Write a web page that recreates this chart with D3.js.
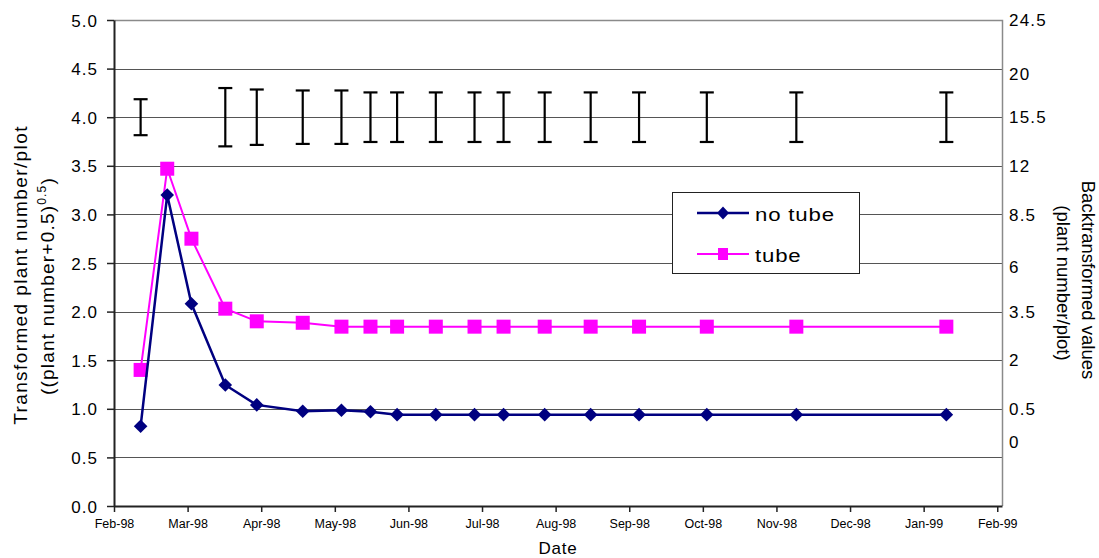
<!DOCTYPE html>
<html>
<head>
<meta charset="utf-8">
<title></title>
<style>
  body { margin: 0; background: #fff; }
  text { font-family: "Liberation Sans", Arial, sans-serif; fill: #000; }
</style>
</head>
<body>
<script src="https://d3js.org/d3.v7.min.js"></script>
<script>

// sampling dates
var dates = ["1998-02-12", "1998-02-23", "1998-03-05", "1998-03-19", "1998-04-01",
             "1998-04-20", "1998-05-06", "1998-05-18", "1998-05-29", "1998-06-14",
             "1998-06-30", "1998-07-12", "1998-07-29", "1998-08-17", "1998-09-06",
             "1998-10-04", "1998-11-10", "1999-01-11"];

// transformed values, (n+0.5)^0.5
var noTube = [0.82, 3.20, 2.08, 1.245, 1.04, 0.975, 0.985, 0.97, 0.94, 0.94,
              0.94, 0.94, 0.94, 0.94, 0.94, 0.94, 0.94, 0.94];
var tube   = [1.40, 3.47, 2.75, 2.03, 1.90, 1.885, 1.845, 1.845, 1.845, 1.845,
              1.845, 1.845, 1.845, 1.845, 1.845, 1.845, 1.845, 1.845];

// LSD bars drawn round 4.0 (half lengths, null = no bar)
var lsdCentre = 4.0;
var lsdHalf = [0.185, null, null, 0.30, 0.285, 0.275, 0.275, 0.255, 0.255, 0.255,
               0.255, 0.255, 0.255, 0.255, 0.255, 0.255, 0.255, 0.255];

var seriesNames = ["no tube", "tube"];
var yTicks = [0, 0.5, 1.0, 1.5, 2.0, 2.5, 3.0, 3.5, 4.0, 4.5, 5.0];
var rightLabels = ["24.5", "20", "15.5", "12", "8.5", "6", "3.5", "2", "0.5", "0"];
var rightLabelAt = [5.0, 4.45, 4.0, 3.5, 3.0, 2.46, 2.0, 1.5, 1.0, 0.66];

var parse = d3.utcParse("%Y-%m-%d");
var when = dates.map(parse);

var W = 1099, H = 558;
var plotLeft = 114, plotRight = 1002, plotTop = 20, plotBottom = 506;

var svg = d3.select("body").append("svg")
    .attr("width", W)
    .attr("height", H);

var x = d3.scaleUtc()
    .domain([Date.UTC(1998, 1, 1), Date.UTC(1999, 1, 3)])
    .range([plotLeft, plotRight]);
var y = d3.scaleLinear().domain([0, 5]).range([plotBottom, plotTop]);

// excel style: major unit of about a month counted from the minimum
var xTicks = d3.range(13).map(function(k) {
    return new Date(Date.UTC(1998, 1, 1) + k * 30.42 * 864e5);
});

function crisp(v) { return Math.round(v) + 0.5; }

// gridlines
svg.append("g").selectAll("line")
    .data(yTicks.filter(function(d) { return d > 0 && d < 5; }))
    .enter().append("line")
    .attr("x1", plotLeft).attr("x2", plotRight)
    .attr("y1", function(d) { return crisp(y(d)); })
    .attr("y2", function(d) { return crisp(y(d)); })
    .attr("stroke", "#555")
    .attr("stroke-width", 1);

// top and right border
svg.append("path")
    .attr("d", "M" + plotLeft + "," + (plotTop + 0.5) + "H" + (plotRight + 0.5) + "V" + plotBottom)
    .attr("fill", "none")
    .attr("stroke", "#8a8a8a")
    .attr("stroke-width", 1.5);

// left axis
var gY = svg.append("g")
    .attr("transform", "translate(" + plotLeft + ",0)")
    .call(d3.axisLeft(y).tickValues(yTicks).tickSize(7).tickSizeOuter(0)
        .tickFormat(d3.format(".1f")));
gY.select(".domain").attr("stroke", "#222").attr("stroke-width", 2);
gY.selectAll(".tick line").attr("stroke", "#222").attr("stroke-width", 1.5);
gY.selectAll(".tick text")
    .attr("x", -16)
    .style("font-size", "17px")
    .style("letter-spacing", "1px")
    .attr("dy", "0.36em");

// bottom axis
var gX = svg.append("g")
    .attr("transform", "translate(0," + plotBottom + ")")
    .call(d3.axisBottom(x).tickValues(xTicks).tickSize(6).tickSizeOuter(0)
        .tickFormat(d3.utcFormat("%b-%y")));
gX.select(".domain").attr("stroke", "#222").attr("stroke-width", 2);
gX.selectAll(".tick line").attr("stroke", "#222").attr("stroke-width", 1.5);
gX.selectAll(".tick text")
    .attr("y", 22)
    .attr("dy", 0)
    .style("font-size", "12.5px");

// right hand labels (backtransformed)
svg.append("g").selectAll("text")
    .data(rightLabels)
    .enter().append("text")
    .attr("x", 1009)
    .attr("y", function(d, i) { return y(rightLabelAt[i]); })
    .attr("dy", "0.36em")
    .style("font-size", "17px")
    .style("letter-spacing", "1.2px")
    .text(function(d) { return d; });

// axis titles
svg.append("text")
    .attr("x", (plotLeft + plotRight) / 2)
    .attr("y", 554)
    .attr("text-anchor", "middle")
    .style("font-size", "17px")
    .style("letter-spacing", "0.8px")
    .text("Date");

svg.append("text")
    .attr("transform", "translate(27,275) rotate(-90)")
    .attr("text-anchor", "middle")
    .style("font-size", "19px")
    .style("letter-spacing", "1.4px")
    .text("Transformed plant number/plot");

var t2 = svg.append("text")
    .attr("transform", "translate(54,286) rotate(-90)")
    .attr("text-anchor", "middle")
    .style("font-size", "19px")
    .style("letter-spacing", "1.2px");
t2.append("tspan").text("((plant number+0.5)");
t2.append("tspan").attr("dy", -8).style("font-size", "12px").text("0.5");
t2.append("tspan").attr("dy", 8).text(")");

svg.append("text")
    .attr("transform", "translate(1082,280) rotate(90)")
    .attr("text-anchor", "middle")
    .style("font-size", "18.5px")
    .text("Backtransformed values");

svg.append("text")
    .attr("transform", "translate(1057,283) rotate(90)")
    .attr("text-anchor", "middle")
    .style("font-size", "18.5px")
    .text("(plant number/plot)");

// LSD bars
var bars = svg.append("g").selectAll("g")
    .data(lsdHalf.map(function(h, i) { return { t: when[i], h: h }; })
        .filter(function(d) { return d.h != null; }))
    .enter().append("g")
    .attr("stroke", "#000")
    .attr("stroke-width", 2.2);
bars.append("line")
    .attr("x1", function(d) { return x(d.t); })
    .attr("x2", function(d) { return x(d.t); })
    .attr("y1", function(d) { return y(lsdCentre + d.h); })
    .attr("y2", function(d) { return y(lsdCentre - d.h); });
bars.append("line")
    .attr("x1", function(d) { return x(d.t) - 7; })
    .attr("x2", function(d) { return x(d.t) + 7; })
    .attr("y1", function(d) { return y(lsdCentre + d.h); })
    .attr("y2", function(d) { return y(lsdCentre + d.h); });
bars.append("line")
    .attr("x1", function(d) { return x(d.t) - 7; })
    .attr("x2", function(d) { return x(d.t) + 7; })
    .attr("y1", function(d) { return y(lsdCentre - d.h); })
    .attr("y2", function(d) { return y(lsdCentre - d.h); });

// series
var series = [
    { name: seriesNames[0], values: noTube, color: "#000080", shape: "diamond", width: 2.5 },
    { name: seriesNames[1], values: tube, color: "#ff00ff", shape: "square", width: 2 }
];

var line = d3.line()
    .x(function(d, i) { return x(when[i]); })
    .y(function(d) { return y(d); });

function marker(sel, s) {
    if (s.shape == "diamond") {
        sel.append("path")
            .attr("d", "M0,-6.8L6.8,0L0,6.8L-6.8,0Z")
            .attr("fill", s.color);
    } else {
        sel.append("rect")
            .attr("x", -7).attr("y", -7)
            .attr("width", 14).attr("height", 14)
            .attr("fill", s.color);
    }
}

// tube drawn first, no tube on top
series.slice().reverse().forEach(function(s) {
    svg.append("path")
        .datum(s.values)
        .attr("d", line)
        .attr("fill", "none")
        .attr("stroke", s.color)
        .attr("stroke-width", s.width);
    svg.append("g").selectAll("g")
        .data(s.values)
        .enter().append("g")
        .attr("transform", function(d, i) { return "translate(" + x(when[i]) + "," + y(d) + ")"; })
        .each(function() { marker(d3.select(this), s); });
});

// legend
var lg = svg.append("g");
lg.append("rect")
    .attr("x", 672.5).attr("y", 192.5)
    .attr("width", 187).attr("height", 81)
    .attr("fill", "#fff")
    .attr("stroke", "#222")
    .attr("stroke-width", 1);

var legendY = [213, 254];
series.forEach(function(s, i) {
    var row = lg.append("g").attr("transform", "translate(0," + legendY[i] + ")");
    row.append("line")
        .attr("x1", 697).attr("x2", 749)
        .attr("stroke", s.color)
        .attr("stroke-width", s.width);
    var m = row.append("g").attr("transform", "translate(723,0)");
    if (s.shape == "diamond") {
        m.append("path").attr("d", "M0,-6.5L6,0L0,6.5L-6,0Z").attr("fill", s.color);
    } else {
        m.append("rect").attr("x", -5).attr("y", -6).attr("width", 10).attr("height", 12).attr("fill", s.color);
    }
    row.append("text")
        .attr("transform", "translate(755,8) scale(1.2,1)")
        .style("font-size", "18.5px")
        .style("letter-spacing", "0.7px")
        .text(s.name);
});

</script>
</body>
</html>
